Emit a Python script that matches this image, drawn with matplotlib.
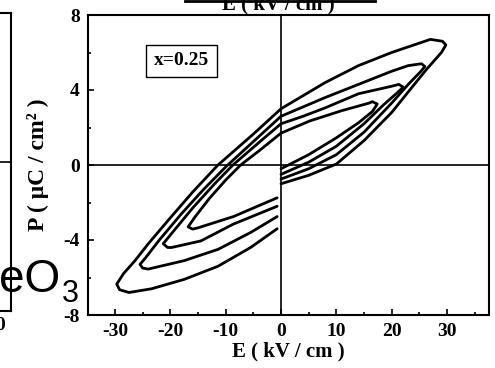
import matplotlib
matplotlib.use("Agg")
import matplotlib.pyplot as plt
from matplotlib.lines import Line2D
from matplotlib.ticker import MultipleLocator

plt.rcParams['font.family'] = 'Liberation Serif'
plt.rcParams['font.weight'] = 'bold'
plt.rcParams['axes.labelweight'] = 'bold'
plt.rcParams['axes.unicode_minus'] = False

# four nested P-E loops (E in kV/cm, P in uC/cm^2)
e1 = [0, 5, 10, 15, 20, 23, 26.3, 29, 29.8, 29.2, 27, 24, 20, 14, 8, 4, 0, -5, -11.4, -16, -20.4, -24,
      -26.4, -28.5, -29.7, -29.2, -27.5, -23.4, -17.5, -11.4, -5.5, -0.7]
p1 = [-1.0, -0.55, 0.05, 1.3, 2.8, 3.9, 5.1, 6.0, 6.4, 6.6, 6.7, 6.4, 6.0, 5.3, 4.4, 3.7, 3.0, 1.65, 0, -1.45,
      -2.95, -4.2, -5.1, -5.8, -6.35, -6.65, -6.8, -6.6, -6.1, -5.4, -4.4, -3.4]

e2 = [0, 5, 10, 15, 20, 23, 25.3, 26, 25.4, 23, 20, 14, 8, 4, 0, -5, -10, -14, -18, -22, -24.5, -25.5,
      -25, -24, -17.5, -11.4, -5.5, -0.7]
p2 = [-0.75, -0.2, 0.55, 1.75, 3.3, 4.3, 5.0, 5.25, 5.4, 5.3, 5.0, 4.3, 3.6, 3.1, 2.6, 1.25, -0.1, -1.3,
      -2.6, -4.0, -4.95, -5.3, -5.5, -5.55, -5.1, -4.5, -3.6, -2.75]

e3 = [0, 5, 10, 15, 18.5, 21, 22.1, 21.3, 20, 14, 8, 4, 0, -4, -8.7, -12, -16, -19.5, -21.3, -20.5, -19.8,
      -14.5, -8.6, -0.7]
p3 = [-0.5, 0.15, 1.0, 2.2, 3.2, 3.85, 4.15, 4.3, 4.2, 3.8, 3.05, 2.6, 2.2, 1.2, 0, -1.0, -2.3, -3.55, -4.2,
      -4.4, -4.4, -4.05, -3.15, -2.2]

e4 = [0, 5, 10, 14, 16.5, 17.4, 16.5, 15.9, 11, 5.2, 0, -4, -7.3, -10, -13, -15.5, -16.8, -16, -15, -8.6, -0.7]
p4 = [-0.2, 0.55, 1.45, 2.25, 2.85, 3.25, 3.38, 3.3, 2.9, 2.35, 1.7, 0.75, 0, -0.8, -1.8, -2.75, -3.3,
      -3.42, -3.35, -2.75, -1.75]

xticks = [-30, -20, -10, 0, 10, 20, 30]
yticks = [-8, -4, 0, 4, 8]

W, H = 495, 368
fig = plt.figure(figsize=(4.95, 3.68), dpi=100)

# edge of the neighbouring panel on the left
axl = fig.add_axes([-0.1, 57 / H, 0.1 + 11 / W, 298 / H])
axl.set_xlim(0, 1)
axl.set_ylim(-8, 8)
axl.axhline(0, color="black", lw=1.2)
axl.spines["left"].set_visible(False)
for s in ["right", "top", "bottom"]:
    axl.spines[s].set_linewidth(1.5)
axl.set_xticks([])
axl.set_yticks([])
fig.text(0, 1 - 326 / H, "0", fontsize=14, ha="center", va="center")

# main panel
ax = fig.add_axes([88 / W, 53 / H, 401 / W, 300 / H])
for e, p in [(e1, p1), (e2, p2), (e3, p3), (e4, p4)]:
    ax.plot(e, p, color="black", lw=2.0, solid_joinstyle="round", solid_capstyle="round")
ax.axhline(0, color="black", lw=1.2)
ax.axvline(0, color="black", lw=1.2)
ax.set_xlim(-34.9, 37.6)
ax.set_ylim(-8, 8)
ax.set_xticks(xticks)
ax.set_yticks(yticks)
ax.xaxis.set_minor_locator(MultipleLocator(5))
ax.yaxis.set_minor_locator(MultipleLocator(2))
ax.tick_params(which="both", direction="in", top=False, right=False, labelsize=14, width=1.2)
ax.tick_params(which="major", length=4, pad=6)
ax.tick_params(which="minor", length=2.5)
for s in ax.spines.values():
    s.set_linewidth(1.5)
ax.set_xlabel("E ( kV / cm )", fontsize=15, labelpad=1)
ax.set_ylabel("P ( μC / cm² )", fontsize=17, labelpad=10)
ax.text(0.234, 0.847, "x=0.25", transform=ax.transAxes, fontsize=14, ha="center", va="center",
        bbox=dict(boxstyle="square,pad=0.4", fc="white", ec="black", lw=1))

# cut-off bits of the surrounding figure
fig.text(278 / W, 1 - 9 / H, "E ( kV / cm )", fontsize=15, ha="center", va="baseline")
fig.add_artist(Line2D([185 / W, 375 / W], [1 - 1 / H, 1 - 1 / H], color="black", lw=2))
fig.text(-1 / W, 1 - 292 / H, "eO", family="Liberation Sans", fontweight="normal", fontsize=33,
         ha="left", va="baseline")
fig.text(62 / W, 1 - 302 / H, "3", family="Liberation Sans", fontweight="normal", fontsize=22,
         ha="left", va="baseline")

fig.savefig("out.png", dpi=100)
